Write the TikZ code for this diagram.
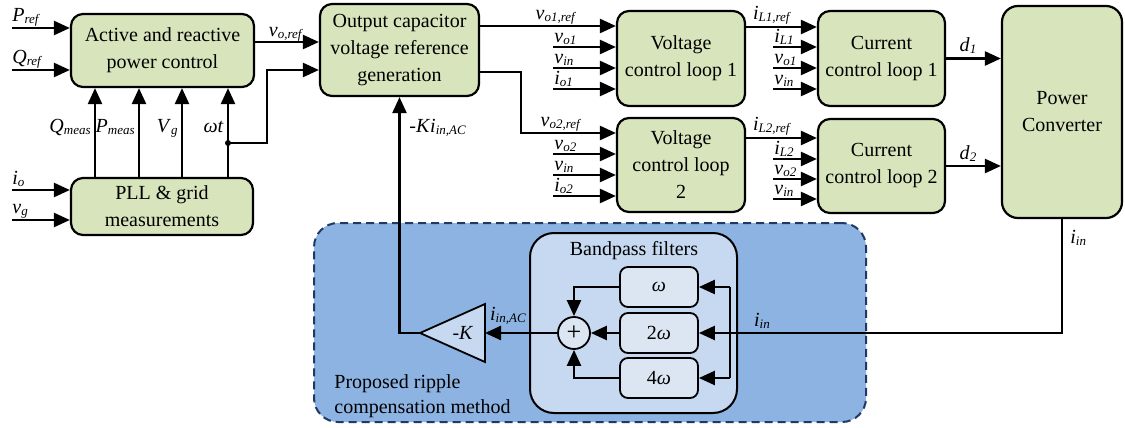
\documentclass[tikz,border=0pt]{standalone}
\usepackage{fontspec}
\setmainfont{Liberation Serif}
\usepackage{tikz}
\usetikzlibrary{arrows.meta,calc,positioning}
\definecolor{boxgreen}{RGB}{215,228,188}
\definecolor{regionblue}{RGB}{141,179,226}
\definecolor{edgeblue}{RGB}{31,56,100}
\definecolor{bpfblue}{RGB}{198,217,241}
\definecolor{filtblue}{RGB}{220,230,242}
\newcommand{\sig}[2]{\textit{#1}\raisebox{-0.3ex}{\fontsize{6.5}{7}\selectfont\textit{#2}}}

\begin{document}
\begin{tikzpicture}[x=0.5pt, y=-0.5pt,
  font=\fontsize{10}{13.5}\selectfont,
  blk/.style={draw, line width=1.1pt, fill=boxgreen, rounded corners=6pt,
    align=center, inner sep=0pt},
  flt/.style={draw, line width=0.9pt, fill=filtblue, rounded corners=4pt,
    minimum width=39pt, minimum height=20pt, inner sep=0pt},
  arr/.style={line width=1.2pt, -{Triangle[length=8pt,width=7pt]}},
  wire/.style={line width=1.2pt},
  lab/.style={inner sep=0pt, anchor=base west}]
  \useasboundingbox (0,0) rectangle (1125,428);

  % === Ripple compensation region ===
  \node[draw=edgeblue, line width=1pt, dash pattern=on 4pt off 2.5pt,
    fill=regionblue, rounded corners=12pt, minimum width=276pt,
    minimum height=99.5pt] (ripple) at (590,322.5) {};
  \node[draw, line width=1pt, fill=bpfblue, rounded corners=12pt,
    minimum width=103.5pt, minimum height=90pt] (bpf) at (633.5,323) {};
  \node[inner sep=0pt, anchor=base] (bpflbl) at (634,255) {Bandpass filters};
  \node[lab] (prop1) at (334,388) {Proposed ripple};
  \node[lab] (prop2) at (334,413) {compensation method};

  % === Blocks ===
  \node[blk, minimum width=91.5pt, minimum height=36.5pt] (arp) at (162.5,50.5)
    {Active and reactive\\power control};
  \node[blk, minimum width=91pt, minimum height=28.5pt] (pll) at (162,206.5)
    {PLL \& grid\\measurements};
  \node[blk, minimum width=79.5pt, minimum height=46pt] (ocv) at (399.5,50)
    {Output capacitor\\voltage reference\\generation};
  \node[blk, minimum width=64pt, minimum height=47.5pt] (vcl1) at (681,58.5)
    {Voltage\\control loop 1};
  \node[blk, minimum width=64pt, minimum height=47pt] (vcl2) at (681,165)
    {Voltage\\control loop\\2};
  \node[blk, minimum width=63.5pt, minimum height=47.5pt] (ccl1) at (881.5,58.5)
    {Current\\control loop 1};
  \node[blk, minimum width=63.5pt, minimum height=47pt] (ccl2) at (881.5,166)
    {Current\\control loop 2};
  \node[blk, rounded corners=8pt, minimum width=60pt, minimum height=106pt]
    (pc) at (1062,112) {Power\\Converter};

  % filters, sum and gain
  \node[flt] (f1) at (659,287) {\textit{ω}};
  \node[flt] (f2) at (659,333) {2\textit{ω}};
  \node[flt] (f4) at (659,378) {4\textit{ω}};
  \node[circle, draw, line width=0.9pt, fill=filtblue, minimum size=16pt,
    inner sep=0pt, font=\fontsize{13}{13}\selectfont] (sum) at (574,333) {+};
  \coordinate (gtip) at (420,333);
  \coordinate (gbase) at (485,333);
  \draw[line width=0.9pt, fill=bpfblue] (gtip) -- (485,304) -- (485,362) -- cycle;
  \node[inner sep=0pt] (gain) at (463,333) {-\textit{K}};

  % === Inputs of the power control ===
  \foreach \yy/\by/\txt in {28/21/{\sig{P}{ref}},70/63/{\sig{Q}{ref}}} {
    \coordinate (in) at (12,\yy);
    \draw[arr] (in) -- (in -| arp.west);
    \node[lab] at (12,\by) {\txt};
  }
  \foreach \yy/\by/\txt in {190/184/{\sig{i}{o}},220/213/{\sig{v}{g}}} {
    \coordinate (in) at (12,\yy);
    \draw[arr] (in) -- (in -| pll.west);
    \node[lab] at (12,\by) {\txt};
  }
  % measurements
  \foreach \xx/\txt in {95/{\sig{Q}{meas}},139/{\sig{P}{meas}},
                        182/{\sig{V}{g}},228/{\textit{ωt}}} {
    \coordinate (m) at (\xx,130);
    \draw[arr] (m |- pll.north) -- (m |- arp.south);
    \node[inner sep=0pt, anchor=base east] at (\xx-4,132) {\txt};
  }
  % angle to the reference generation
  \coordinate (wt) at (228,143);
  \coordinate (wtin) at (267,70);
  \draw[arr] (wt) -| (wtin) -- (wtin -| ocv.west);
  \fill (wt) circle (1.5pt);
  \coordinate (voref) at (0,42);
  \draw[arr] (arp.east |- voref) -- (ocv.west |- voref);
  \node[inner sep=0pt, anchor=base] at (286,36) {\sig{v}{o,ref}};

  % === Voltage loops ===
  \coordinate (r1) at (0,26);
  \draw[arr] (ocv.east |- r1) -- (vcl1.west |- r1);
  \node[inner sep=0pt, anchor=base] at (556,19) {\sig{v}{o1,ref}};
  \coordinate (o2) at (521,72);
  \coordinate (r5) at (0,133);
  \draw[arr] (ocv.east |- o2) -- (o2) |- (vcl2.west |- r5);
  \node[inner sep=0pt, anchor=base] at (561,126) {\sig{v}{o2,ref}};
  \foreach \yy/\txt in {47/{\sig{v}{o1}},68/{\sig{v}{in}},89/{\sig{i}{o1}},
                        154/{\sig{v}{o2}},175/{\sig{v}{in}},196/{\sig{i}{o2}}} {
    \coordinate (in) at (553,\yy);
    \draw[arr] (in) -- (in -| vcl1.west);
    \node[lab] at (554,\yy-5) {\txt};
  }

  % === Current loops ===
  \coordinate (c1) at (0,27);
  \draw[arr] (vcl1.east |- c1) -- (ccl1.west |- c1);
  \node[inner sep=0pt, anchor=base] at (772,19) {\sig{i}{L1,ref}};
  \coordinate (c5) at (0,138);
  \draw[arr] (vcl2.east |- c5) -- (ccl2.west |- c5);
  \node[inner sep=0pt, anchor=base] at (772,130) {\sig{i}{L2,ref}};
  \foreach \yy/\txt in {47/{\sig{i}{L1}},68/{\sig{v}{o1}},89/{\sig{v}{in}},
                        159/{\sig{i}{L2}},179/{\sig{v}{o2}},199/{\sig{v}{in}}} {
    \coordinate (in) at (773,\yy);
    \draw[arr] (in) -- (in -| ccl1.west);
    \node[lab] at (774,\yy-5) {\txt};
  }
  \draw[arr] (ccl1.east) -- (ccl1.east -| pc.west);
  \node[inner sep=0pt, anchor=base] at (968,51) {\sig{d}{1}};
  \draw[arr] (ccl2.east) -- (ccl2.east -| pc.west);
  \node[inner sep=0pt, anchor=base] at (968,159) {\sig{d}{2}};

  % === Ripple compensation path ===
  \coordinate (busT) at (730,287);
  \coordinate (busB) at (730,378);
  \draw[arr] (pc.south) |- (f2.east);
  \draw[wire] (busT) -- (busB);
  \draw[arr] (busT) -- (f1.east);
  \draw[arr] (busB) -- (f4.east);
  \node[lab] at (1070,243) {\sig{i}{in}};
  \node[inner sep=0pt, anchor=base] at (762,326) {\sig{i}{in}};
  \draw[arr] (f1.west) -| (sum.north);
  \draw[arr] (f2.west) -- (sum.east);
  \draw[arr] (f4.west) -| (sum.south);
  \draw[arr] (sum.west) -- (gbase);
  \node[inner sep=0pt, anchor=base] at (508,320) {\sig{i}{in,AC}};
  \draw[arr] (gtip) -| (ocv.south);
  \node[lab] at (409,132) {-\textit{K}\sig{i}{in,AC}};
\end{tikzpicture}
\end{document}
